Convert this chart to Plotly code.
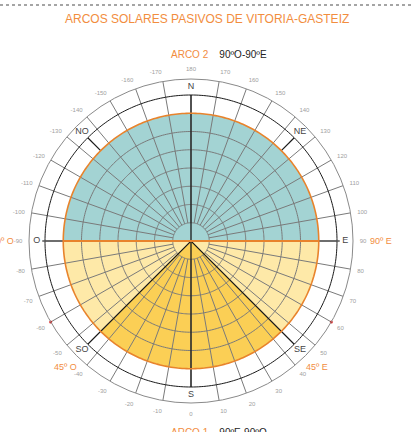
import math
import plotly.graph_objects as go

# Azimuth is measured from south, positive towards east (degrees)
azimuth_ticks = list(range(0, 360, 10))
azimuth_labels = [str(a if a <= 180 else a - 360) for a in azimuth_ticks]
spoke_azimuths = list(range(-170, 190, 10))

# Concentric grid circles (radial units), arc boundary, horizon and outer ring
ring_radii = [1, 2, 3, 4, 5, 6]
arc_radius = 7
horizon_radius = 8
outer_radius = 8.877

# Compass point labels placed between horizon and outer ring
compass_labels = ["S", "SE", "E", "NE", "N", "NO", "O", "SO"]
compass_azimuths = [0, 45, 90, 135, 180, -135, -90, -45]

# Coloured sectors: centre azimuth and angular width
arc2_center, arc2_width = 180, 180      # ARCO 2: 90ºO-90ºE through north
arc1_center, arc1_width = 0, 180        # ARCO 1: 90ºE-90ºO through south
south_center, south_width = 0, 90       # 45ºO-45ºE

# Limit labels around the diagram
limit_texts = ["90º O", "90º E", "45º O", "45º E"]
limit_azimuths = [-90, 90, -45, 45]
limit_radii = [10.35, 10.4, 9.75, 9.75]

# Small red marks on the outer ring
mark_azimuths = [-60, 60]

TEAL = "#a3d3d3"
LIGHT_YELLOW = "#fee9a8"
DARK_YELLOW = "#fbcf55"
ORANGE = "#e8832c"
TEXT_ORANGE = "#f28d3e"
GRID = "#7a7a7a"
FONT = "Liberation Sans, Arial, sans-serif"

W, H = 414, 432
cx, cy, R = 191, 241, 162


def circle(r, n=361):
    th = [i * 360.0 / (n - 1) for i in range(n)]
    return [r] * n, th


def polar_to_paper(r, az):
    # same orientation as the angular axis: 0 at the bottom, east to the right
    px = cx + r / outer_radius * R * math.sin(math.radians(az))
    py = cy + r / outer_radius * R * math.cos(math.radians(az))
    return px / W, (H - py) / H


fig = go.Figure()

# Filled sectors
for center, width, color in [
    (arc2_center, arc2_width, TEAL),
    (arc1_center, arc1_width, LIGHT_YELLOW),
    (south_center, south_width, DARK_YELLOW),
]:
    fig.add_trace(go.Barpolar(
        r=[arc_radius], theta=[center], width=[width],
        marker=dict(color=color, line=dict(width=0)),
        hoverinfo="skip", showlegend=False,
    ))

# Grid circles
for rr in ring_radii:
    r, th = circle(rr)
    fig.add_trace(go.Scatterpolar(r=r, theta=th, mode="lines",
                                  line=dict(color=GRID, width=1),
                                  hoverinfo="skip", showlegend=False))

# Radial spokes every 10 degrees
sr, st = [], []
for a in spoke_azimuths:
    end = horizon_radius if a % 90 == 0 else outer_radius
    sr += [ring_radii[0], end, None]
    st += [a, a, None]
fig.add_trace(go.Scatterpolar(r=sr, theta=st, mode="lines",
                              line=dict(color=GRID, width=1),
                              hoverinfo="skip", showlegend=False))

# Horizon circle
r, th = circle(horizon_radius)
fig.add_trace(go.Scatterpolar(r=r, theta=th, mode="lines",
                              line=dict(color="#1a1a1a", width=1),
                              hoverinfo="skip", showlegend=False))

# Diagonal sector limits (SE / SO) and NE / NO marks
fig.add_trace(go.Scatterpolar(
    r=[horizon_radius, 0, horizon_radius, None,
       arc_radius, horizon_radius, None, arc_radius, horizon_radius],
    theta=[-45, 0, 45, None, 135, 135, None, -135, -135],
    mode="lines", line=dict(color="#1a1a1a", width=1.2),
    hoverinfo="skip", showlegend=False))

# North-south axis
fig.add_trace(go.Scatterpolar(r=[horizon_radius, 0, horizon_radius],
                              theta=[180, 0, 0], mode="lines",
                              line=dict(color="#1a1a1a", width=1.3),
                              hoverinfo="skip", showlegend=False))

# East-west axis outside the arc
fig.add_trace(go.Scatterpolar(
    r=[arc_radius, horizon_radius + 0.15, None, arc_radius, horizon_radius + 0.15],
    theta=[90, 90, None, -90, -90], mode="lines",
    line=dict(color="#555555", width=1.3),
    hoverinfo="skip", showlegend=False))

# Arc boundary circle and east-west divide
r, th = circle(arc_radius)
fig.add_trace(go.Scatterpolar(r=r, theta=th, mode="lines",
                              line=dict(color=ORANGE, width=1.6),
                              hoverinfo="skip", showlegend=False))
fig.add_trace(go.Scatterpolar(r=[arc_radius, 0, arc_radius],
                              theta=[90, 0, -90], mode="lines",
                              line=dict(color=ORANGE, width=1.8),
                              hoverinfo="skip", showlegend=False))

# Red marks
fig.add_trace(go.Scatterpolar(r=[outer_radius] * len(mark_azimuths),
                              theta=mark_azimuths, mode="markers",
                              marker=dict(color="#d62020", size=3),
                              hoverinfo="skip", showlegend=False))

# Compass labels
fig.add_trace(go.Scatterpolar(
    r=[8.45] * len(compass_labels), theta=compass_azimuths,
    mode="text", text=compass_labels,
    textfont=dict(family=FONT, size=9, color="#444444"),
    cliponaxis=False, hoverinfo="skip", showlegend=False))

annotations = [
    dict(text="ARCOS SOLARES PASIVOS DE VITORIA-GASTEIZ",
         x=207 / W, y=(H - 19) / H, xref="paper", yref="paper",
         showarrow=False, xanchor="center", yanchor="middle",
         font=dict(family=FONT, size=12, color=TEXT_ORANGE)),
    dict(text="<span style='color:%s'>ARCO 2</span>&nbsp;&nbsp;&nbsp;&nbsp;90ºO-90ºE" % TEXT_ORANGE,
         x=169 / W, y=(H - 54) / H, xref="paper", yref="paper",
         showarrow=False, xanchor="left", yanchor="middle",
         font=dict(family=FONT, size=10, color="#222222")),
    dict(text="<span style='color:%s'>ARCO 1</span>&nbsp;&nbsp;&nbsp;&nbsp;90ºE-90ºO" % TEXT_ORANGE,
         x=169 / W, y=(H - 432) / H, xref="paper", yref="paper",
         showarrow=False, xanchor="left", yanchor="middle",
         font=dict(family=FONT, size=10, color="#222222")),
]

# Limit labels outside the outer ring
for txt, az, rr in zip(limit_texts, limit_azimuths, limit_radii):
    x, y = polar_to_paper(rr, az)
    annotations.append(dict(text=txt, x=x, y=y, xref="paper", yref="paper",
                            showarrow=False, xanchor="center", yanchor="middle",
                            font=dict(family=FONT, size=9, color=TEXT_ORANGE)))

fig.update_layout(
    width=W, height=H,
    margin=dict(l=0, r=0, t=0, b=0),
    paper_bgcolor="white",
    plot_bgcolor="white",
    font=dict(family=FONT),
    showlegend=False,
    polar=dict(
        domain=dict(x=[(cx - R) / W, (cx + R) / W],
                    y=[(H - cy - R) / H, (H - cy + R) / H]),
        bgcolor="white",
        barmode="overlay",
        radialaxis=dict(range=[0, outer_radius], visible=False,
                        showgrid=False),
        angularaxis=dict(
            rotation=270, direction="counterclockwise",
            tickmode="array", tickvals=azimuth_ticks, ticktext=azimuth_labels,
            tickfont=dict(family=FONT, size=6, color="#a0a0a0"),
            ticks="outside", ticklen=5, tickcolor="rgba(0,0,0,0)",
            showgrid=False,
            showline=True, linecolor="#8a8a8a", linewidth=1,
        ),
    ),
    shapes=[dict(type="line", xref="paper", yref="paper",
                 x0=0, x1=1, y0=(H - 5) / H, y1=(H - 5) / H,
                 line=dict(color="#888888", width=1.5, dash="dot"))],
    annotations=annotations,
)

fig.write_html("out.html")
